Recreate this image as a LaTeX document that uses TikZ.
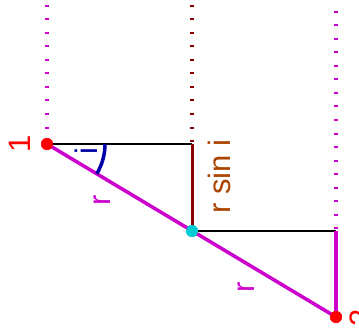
\documentclass[tikz,border=0pt]{standalone}
\usepackage{fontspec}
\setmainfont{Liberation Sans}
\usetikzlibrary{positioning}
\definecolor{mag}{RGB}{204,0,204}
\definecolor{dred}{RGB}{136,0,0}
\definecolor{brn}{RGB}{170,68,0}
\definecolor{dblue}{RGB}{0,0,170}
\definecolor{cyn}{RGB}{0,204,214}
\tikzset{
  ptdot/.style={
    circle,
    inner sep = 0pt,
    minimum size = 12pt,
    fill
  },
  lbl/.style={
    rotate = 90,
    inner sep = 0pt,
    font = \fontsize{31}{31}\selectfont
  },
  guide/.style={
    line width = 3.5pt,
    dash pattern = on 2pt off 11.5pt
  },
}

\begin{document}
\begin{tikzpicture}[x=1pt,y=-1pt]
    \useasboundingbox (0,0) rectangle (359,329);
    \def\rr{58}
    % points and corners
    \coordinate (c1) at (192,144);
    \coordinate (c2) at (336,231);
    \coordinate (t1) at (47,5);
    \coordinate (t2) at (192,5);
    \coordinate (t3) at (336,11);
    \node[ptdot, red] (p1) at (47,144) {};
    \node[ptdot, cyn] (pm) at (192,231) {};
    \node[ptdot, red] (p2) at (336,317) {};
    % dotted guides
    \draw[guide, mag] (t1) -- (p1.center);
    \draw[guide, dred] (t2) -- (c1);
    \draw[guide, mag] (t3) -- (c2);
    % triangles
    \draw[line width=1.5pt] (p1.center) -- (c1);
    \draw[line width=1.5pt] (pm.center) -- (c2);
    \draw[line width=3pt, dred] (c1) -- (pm.center);
    \draw[line width=3.5pt, mag] (c2) -- (p2.center);
    \draw[line width=3.5pt, mag] (p1.center) -- (p2.center);
    \draw[line width=3.5pt, dblue] ([xshift=\rr pt]p1.center) arc (0:30.9:\rr);
    \node[ptdot, red] at (p1) {};
    \node[ptdot, cyn] at (pm) {};
    \node[ptdot, red] at (p2) {};
    % labels
    \node[lbl, red] (l1) at (20,144) {1};
    \node[lbl, red] (l2) at (361,318) {2};
    \node[lbl, dblue] (li) at (86,151.5) {i};
    \node[lbl, mag] (lr1) at (102,200) {r};
    \node[lbl, mag] (lr2) at (246.5,287) {r};
    \node[lbl, brn] (lrs) at (219.5,176.5) {r sin i};
\end{tikzpicture}
\end{document}
